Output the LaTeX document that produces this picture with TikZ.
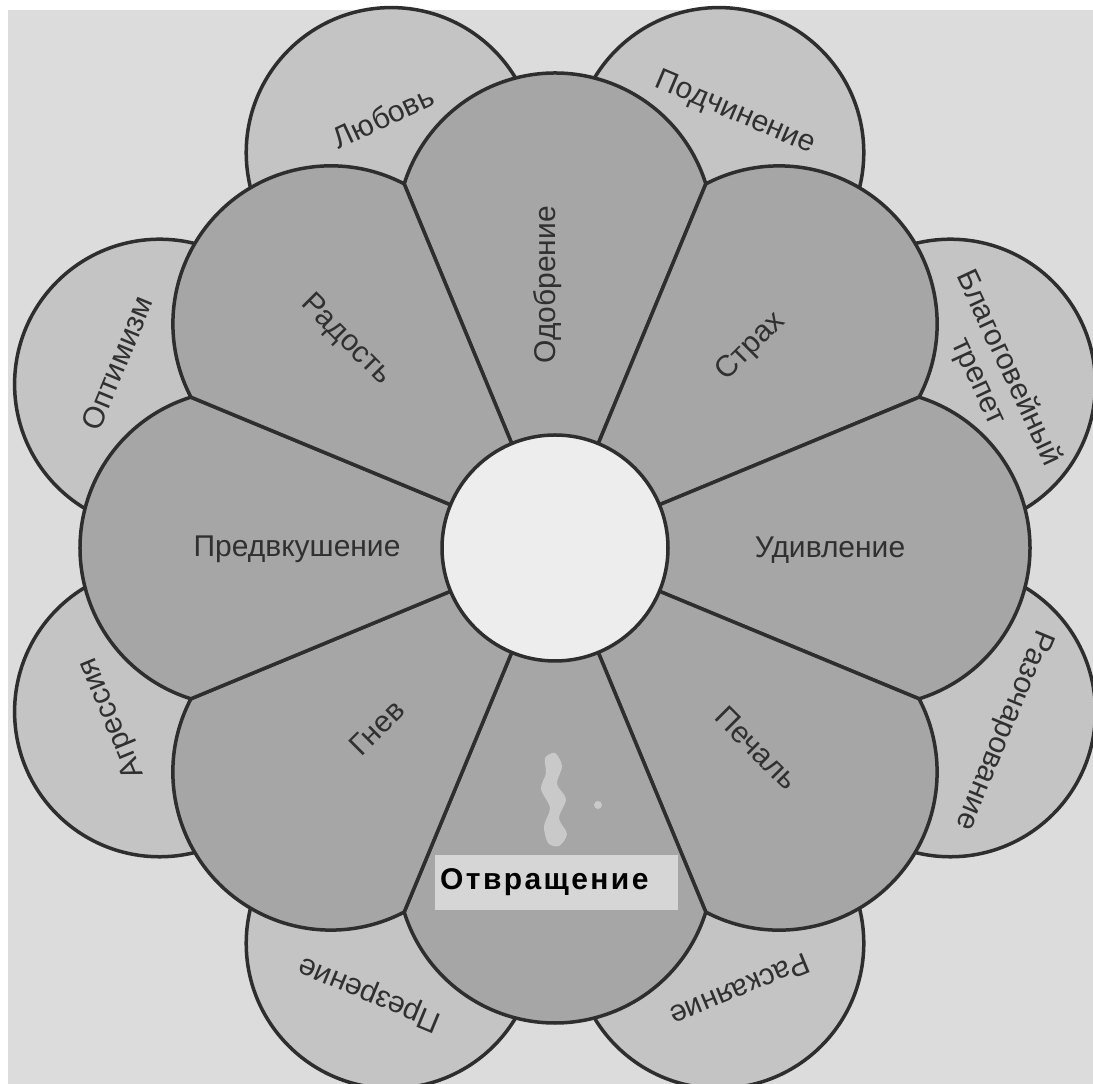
\documentclass[tikz,border=0pt]{standalone}
\usepackage{fontspec}
\setmainfont{Liberation Sans}
\usetikzlibrary{calc}
\definecolor{bgc}{HTML}{DCDCDC}
\definecolor{outerc}{HTML}{C4C4C4}
\definecolor{innerc}{HTML}{A6A6A6}
\definecolor{centerc}{HTML}{EDEDED}
\definecolor{linec}{HTML}{2E2E2E}
\definecolor{textc}{HTML}{303030}
\definecolor{boxc}{HTML}{D6D6D6}
\definecolor{artc}{HTML}{C9C9C9}
\begin{document}
\begin{tikzpicture}[x=1pt,y=1pt,
  edge/.style={draw=linec, line width=3.5pt, line join=round},
  innerp/.style={edge, fill=innerc},
  outerp/.style={edge, fill=outerc},
  lab/.style={text=textc, font=\fontsize{30}{33}\selectfont, inner sep=0pt, align=center},
]
\useasboundingbox (0,0) rectangle (1093,1084);
\fill[white] (0,0) rectangle (1093,1084);
\fill[bgc] (8,0) rectangle (1093,1074);
\coordinate (C) at (555,536);
% outer petals
\foreach \a/\n in {112.5/lov,67.5/pod,22.5/bla,-22.5/raz,-67.5/ras,-112.5/pre,-157.5/agr,157.5/opt}{
  \coordinate (o-\n) at ($(C)+(\a:428)$);
  \draw[outerp] (o-\n) circle[radius=145];
}
% inner petals
\foreach \a/\n in {90/odo,45/str,0/udi,-45/pec,-90/otv,-135/gne,180/pre,135/rad}{
  \coordinate (i-\n) at ($(C)+(\a-22.5:394.1)$);
  \draw[innerp] (C) -- (i-\n) arc[start angle=\a-72.65, end angle=\a+72.65, radius=158] -- cycle;
}
% centre
\node[edge, fill=centerc, circle, minimum size=226pt, inner sep=0pt] (ctr) at (C) {};
% artefact
\fill[artc] plot[smooth cycle] coordinates {(545,326) (555,331) (562,318) (557,300) (566,285) (559,266) (567,250) (559,238) (548,241) (544,258) (550,276) (541,295) (546,311)};
\fill[artc] (598,279) circle[radius=4];
% inner labels
\node[lab, rotate=90]  (l-odo) at (548,799) {Одобрение};
\node[lab, rotate=-45] (l-rad) at (346,744) {Радость};
\node[lab, rotate=45]  (l-str) at (751,737) {Страх};
\node[lab]             (l-udi) at (830,534) {Удивление};
\node[lab, rotate=-45] (l-pec) at (757,336) {Печаль};
\node[lab, rotate=45]  (l-gne) at (377,356) {Гнев};
\node[lab]             (l-prd) at (297,535) {Предвкушение};
% outer labels
\node[lab, rotate=25]     (l-lov) at (383,967) {Любовь};
\node[lab, rotate=-23]    (l-pod) at (735,971) {Подчинение};
\node[lab, rotate=-65]    (l-bla) at (993,709) {Благоговейный\\трепет};
\node[lab, rotate=-112.5] (l-raz) at (1003,354) {Разочарование};
\node[lab, rotate=202.5]  (l-ras) at (740,94) {Раскаяние};
\node[lab, rotate=157.5]  (l-prz) at (370,91) {Презрение};
\node[lab, rotate=112.5]  (l-agr) at (112,366) {Агрессия};
\node[lab, rotate=67.5]   (l-opt) at (117,721) {Оптимизм};
% overlay label
\node[fill=boxc, anchor=west, minimum height=55pt, text width=233pt, inner xsep=5pt, inner ysep=0pt, align=left,
  font=\fontsize{30}{33}\selectfont\bfseries\addfontfeature{LetterSpace=8}] (l-otv) at (435,201.5) {Отвращение};
\end{tikzpicture}
\end{document}
